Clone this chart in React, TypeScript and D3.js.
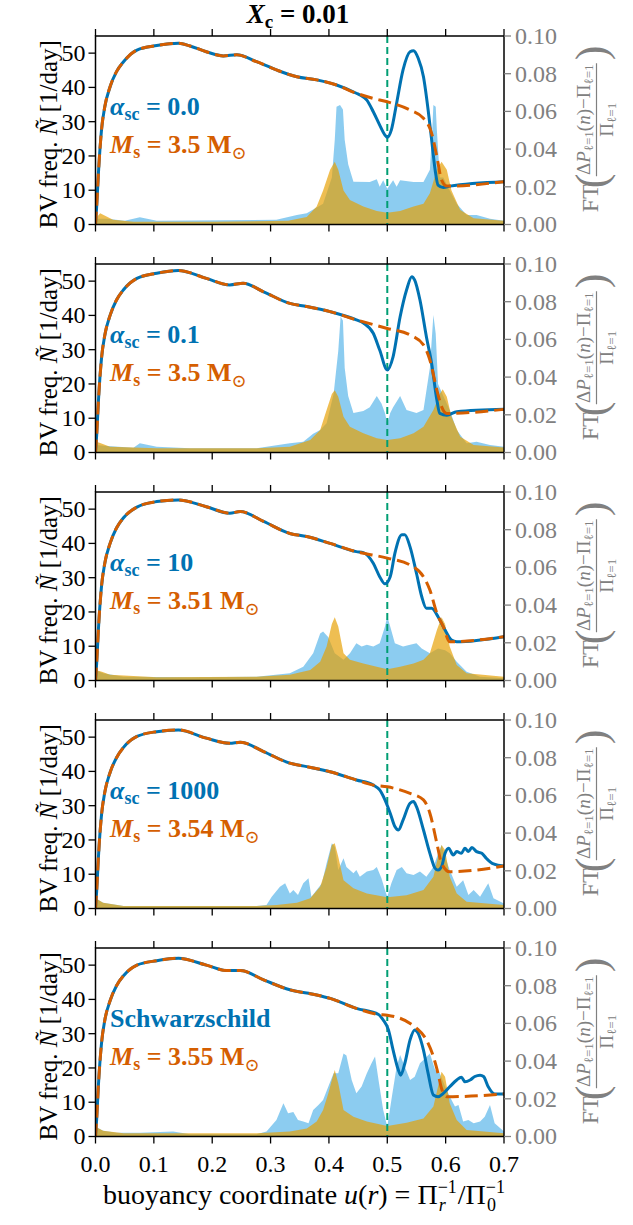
import React from 'react';
import * as d3 from 'd3';

type P = [number, number];

const xTicks = [0, 0.1, 0.2, 0.3, 0.4, 0.5, 0.6, 0.7];
const leftTicks = [0, 10, 20, 30, 40, 50];
const rightTicks = [0, 0.02, 0.04, 0.06, 0.08, 0.1];
const modelLabels = ['0.0', '0.1', '10', '1000', 'Schwarzschild'];
const massLabels = ['3.5', '3.5', '3.51', '3.54', '3.55'];

// ---- BV frequency profiles (u, N) ----
const nHead1: P[] = [[0,0],[0.002,5.2],[0.005,14.9],[0.0103,27.6],[0.016,34.4],[0.025,40.2],[0.036,44.6],[0.048,47.5],[0.071,50.9],[0.105,52.2],[0.142,52.9],[0.162,52.1],[0.19,50.4],[0.219,49.2],[0.242,49.5],[0.276,47.5],[0.31,45.1],[0.345,43.1],[0.379,42.2],[0.413,40.7],[0.447,38.3]];
const nSmoothTail1: P[] = [[0.476,36.8],[0.5,35.8],[0.539,33.4],[0.562,31],[0.576,26.6],[0.585,19.8],[0.593,13],[0.602,11.2],[0.7,12.5]];
const nModelTail1: P[] = [[0.453,37.8],[0.465,36.3],[0.476,32.9],[0.487,29],[0.496,26.1],[0.5,25.4],[0.507,27.6],[0.516,35.4],[0.527,45.1],[0.539,50.4],[0.545,50.7],[0.553,48.5],[0.562,43.1],[0.57,33.4],[0.576,24.7],[0.582,15.9],[0.587,11.5],[0.596,10.8],[0.607,11.2],[0.7,12.5]];

const nHead2: P[] = [[0,0],[0.002,5],[0.005,15],[0.0103,27.5],[0.016,34.3],[0.025,40],[0.036,44.5],[0.048,47.5],[0.071,50.8],[0.105,52.3],[0.142,53.1],[0.19,50.8],[0.23,48.9],[0.253,49.4],[0.288,46.9],[0.333,43.5],[0.362,42.6],[0.402,41.1],[0.447,38.7]];
const nSmoothTail2: P[] = [[0.5,36.2],[0.539,34.3],[0.562,31.4],[0.573,27],[0.585,18.2],[0.593,13.4],[0.602,11.4],[0.7,12.6]];
const nModelTail2: P[] = [[0.459,37.8],[0.476,34.8],[0.487,29.9],[0.5,24.1],[0.51,28],[0.522,39.6],[0.533,47.4],[0.542,51.3],[0.547,50.3],[0.556,44.5],[0.567,33.8],[0.576,26],[0.585,15.3],[0.59,11.4],[0.602,10.9],[0.619,11.9],[0.7,12.6]];

const nHead3: P[] = [[0,0],[0.002,5],[0.005,15],[0.0103,27.5],[0.016,34.3],[0.025,40],[0.036,44.5],[0.048,47.5],[0.071,50.6],[0.105,52.2],[0.142,52.7],[0.19,50.7],[0.23,48.8],[0.248,49.3],[0.288,46.4],[0.333,42.9],[0.362,42],[0.402,40],[0.447,37.6]];
const nSmoothTail3: P[] = [[0.5,35.7],[0.539,33.7],[0.562,30.3],[0.573,26.4],[0.585,19.6],[0.596,15.7],[0.607,11.3],[0.7,12.8]];
const nModelTail3: P[] = [[0.459,37.3],[0.476,34.2],[0.487,30.3],[0.496,28.2],[0.505,30.3],[0.513,37.1],[0.525,42.5],[0.53,42.5],[0.539,39],[0.55,31.3],[0.559,24.5],[0.567,21.1],[0.576,21.1],[0.587,18.6],[0.599,14.7],[0.61,11.8],[0.619,11.3],[0.7,12.8]];

const nHead4: P[] = [[0,0],[0.002,5],[0.005,15],[0.0103,27.3],[0.016,34],[0.025,39.7],[0.036,44],[0.048,47],[0.071,50.2],[0.105,51.6],[0.142,52.1],[0.19,49.7],[0.23,48.2],[0.248,48.5],[0.288,45.8],[0.333,42.4],[0.362,41.4],[0.402,39.9],[0.447,37.5],[0.476,36]];
const nSmoothTail4: P[] = [[0.5,35.5],[0.539,33.6],[0.562,31.7],[0.573,27.8],[0.585,19],[0.593,13.2],[0.607,10.7],[0.7,12.4]];
const nModelTail4: P[] = [[0.487,34.6],[0.496,31.7],[0.505,27.8],[0.513,23.9],[0.519,22.9],[0.527,25.8],[0.539,30.7],[0.545,31.2],[0.55,29.7],[0.562,22.9],[0.573,16.1],[0.582,11.7],[0.587,11.2],[0.593,12.2],[0.599,16.1],[0.605,17.6],[0.613,15.6],[0.619,16.6],[0.627,16.1],[0.633,17.6],[0.639,16.6],[0.645,17.8],[0.653,16.6],[0.662,16.1],[0.67,14.6],[0.682,13],[0.7,12.4]];

const nHead5: P[] = [[0,0],[0.002,5],[0.005,15],[0.0103,27.2],[0.016,34],[0.025,39.6],[0.036,44],[0.048,46.9],[0.071,50],[0.105,51.3],[0.142,52],[0.19,50],[0.225,48.4],[0.248,48.4],[0.288,45.7],[0.333,42.8],[0.379,41.3],[0.402,40.3],[0.447,37.4],[0.485,35.6]];
const nSmoothTail5: P[] = [[0.5,35.4],[0.55,31.6],[0.567,28.2],[0.579,23.3],[0.587,18.4],[0.593,14],[0.602,11.6],[0.7,12.4]];
const nModelTail5: P[] = [[0.493,34],[0.502,31.1],[0.51,25.2],[0.519,19.4],[0.523,17.9],[0.53,21.3],[0.539,28.2],[0.547,31.1],[0.553,30.1],[0.562,25.2],[0.57,18.4],[0.579,12.1],[0.587,11.6],[0.596,12.6],[0.607,14.5],[0.619,16.5],[0.627,17.3],[0.633,16],[0.642,16.5],[0.65,17.5],[0.659,17.9],[0.665,17.5],[0.673,14.5],[0.684,12.4],[0.7,12.4]];

// ---- Fourier transforms of period spacing (u, FT) ----
const ftModel1: P[] = [[0,0.003],[0.02,0.003],[0.05,0.002],[0.076,0.0038],[0.105,0.002],[0.31,0.0025],[0.345,0.005],[0.362,0.006],[0.39,0.011],[0.405,0.025],[0.41,0.045],[0.413,0.0625],[0.419,0.0634],[0.424,0.061],[0.427,0.045],[0.433,0.032],[0.442,0.0227],[0.47,0.0225],[0.482,0.024],[0.487,0.02],[0.493,0.0235],[0.5,0.019],[0.51,0.0235],[0.516,0.02],[0.522,0.0235],[0.545,0.0225],[0.562,0.0225],[0.573,0.029],[0.577,0.05],[0.579,0.0634],[0.583,0.0625],[0.585,0.05],[0.59,0.025],[0.596,0.025],[0.607,0.018],[0.619,0.011],[0.636,0.005],[0.653,0.005],[0.676,0.003],[0.7,0.002]];
const ftSmooth1: P[] = [[0,0.003],[0.008,0.006],[0.03,0.0025],[0.065,0.0015],[0.2,0.0015],[0.33,0.002],[0.362,0.004],[0.379,0.0095],[0.39,0.018],[0.402,0.029],[0.41,0.0333],[0.416,0.029],[0.425,0.018],[0.436,0.013],[0.459,0.0095],[0.482,0.0072],[0.5,0.0063],[0.522,0.0072],[0.545,0.0095],[0.562,0.011],[0.573,0.0166],[0.585,0.029],[0.593,0.0333],[0.602,0.029],[0.61,0.018],[0.625,0.0077],[0.648,0.0033],[0.7,0.002]];

const ftModel2: P[] = [[0,0.004],[0.02,0.0035],[0.065,0.0025],[0.076,0.0049],[0.105,0.003],[0.162,0.0022],[0.276,0.0023],[0.333,0.0049],[0.356,0.0057],[0.373,0.01],[0.385,0.012],[0.396,0.0155],[0.408,0.031],[0.416,0.054],[0.42,0.072],[0.424,0.07],[0.427,0.045],[0.433,0.03],[0.442,0.021],[0.459,0.022],[0.47,0.024],[0.482,0.03],[0.49,0.026],[0.496,0.021],[0.5,0.0155],[0.505,0.021],[0.51,0.024],[0.522,0.03],[0.533,0.0225],[0.55,0.021],[0.562,0.0225],[0.573,0.045],[0.579,0.073],[0.583,0.063],[0.587,0.0363],[0.596,0.03],[0.607,0.0225],[0.619,0.012],[0.636,0.0049],[0.653,0.0057],[0.676,0.004],[0.7,0.003]];
const ftSmooth2: P[] = [[0,0.0058],[0.008,0.005],[0.025,0.003],[0.105,0.0022],[0.276,0.0022],[0.333,0.003],[0.368,0.0066],[0.385,0.012],[0.396,0.0226],[0.405,0.031],[0.41,0.033],[0.416,0.0296],[0.425,0.019],[0.436,0.0137],[0.459,0.0102],[0.482,0.0075],[0.5,0.0066],[0.522,0.0075],[0.545,0.0102],[0.562,0.0137],[0.579,0.0226],[0.59,0.031],[0.595,0.0335],[0.602,0.0296],[0.61,0.019],[0.625,0.0084],[0.648,0.004],[0.7,0.0027]];

const ftModel3: P[] = [[0,0.0056],[0.013,0.0038],[0.048,0.002],[0.162,0.0017],[0.276,0.002],[0.333,0.0038],[0.356,0.0073],[0.373,0.0144],[0.385,0.025],[0.39,0.026],[0.399,0.023],[0.41,0.0144],[0.425,0.011],[0.436,0.0144],[0.447,0.0197],[0.456,0.018],[0.465,0.019],[0.476,0.018],[0.487,0.0197],[0.496,0.0286],[0.5,0.034],[0.505,0.0286],[0.513,0.0197],[0.527,0.018],[0.539,0.019],[0.55,0.0197],[0.559,0.017],[0.573,0.0144],[0.587,0.017],[0.599,0.016],[0.607,0.0144],[0.619,0.01],[0.636,0.0047],[0.659,0.002],[0.7,0.0012]];
const ftSmooth3: P[] = [[0,0.0056],[0.011,0.0047],[0.025,0.003],[0.105,0.0017],[0.276,0.002],[0.333,0.003],[0.368,0.0056],[0.385,0.01],[0.396,0.018],[0.405,0.03],[0.41,0.0335],[0.416,0.0286],[0.425,0.0144],[0.436,0.011],[0.459,0.009],[0.482,0.0073],[0.5,0.006],[0.522,0.0073],[0.545,0.009],[0.562,0.011],[0.573,0.0144],[0.585,0.0268],[0.593,0.0335],[0.599,0.03],[0.607,0.018],[0.619,0.0082],[0.636,0.0038],[0.7,0.002]];

const ftModel4: P[] = [[0,0.0054],[0.013,0.003],[0.048,0.0013],[0.276,0.0013],[0.293,0.0019],[0.302,0.0063],[0.316,0.0116],[0.325,0.0134],[0.333,0.008],[0.339,0.0098],[0.347,0.0072],[0.356,0.0134],[0.365,0.016],[0.37,0.0063],[0.379,0.0098],[0.388,0.0134],[0.396,0.024],[0.405,0.0346],[0.41,0.0328],[0.416,0.0204],[0.425,0.0266],[0.43,0.022],[0.442,0.0187],[0.447,0.0204],[0.453,0.0169],[0.465,0.0196],[0.476,0.0204],[0.482,0.022],[0.49,0.016],[0.496,0.0098],[0.5,0.0063],[0.507,0.0134],[0.516,0.0204],[0.525,0.022],[0.533,0.0187],[0.545,0.0178],[0.556,0.0196],[0.567,0.0169],[0.579,0.022],[0.587,0.029],[0.593,0.0337],[0.599,0.0275],[0.607,0.0204],[0.619,0.0116],[0.63,0.015],[0.639,0.0072],[0.648,0.0098],[0.659,0.0063],[0.673,0.0134],[0.682,0.0054],[0.7,0.0027]];
const ftSmooth4: P[] = [[0,0.0054],[0.013,0.003],[0.048,0.0013],[0.276,0.0013],[0.31,0.0019],[0.345,0.003],[0.368,0.0054],[0.385,0.0116],[0.396,0.022],[0.405,0.0337],[0.41,0.0346],[0.416,0.0275],[0.425,0.015],[0.442,0.0107],[0.465,0.008],[0.5,0.006],[0.533,0.007],[0.562,0.0098],[0.579,0.0169],[0.587,0.0275],[0.593,0.0337],[0.599,0.031],[0.607,0.0169],[0.619,0.008],[0.636,0.0036],[0.7,0.0019]];

const ftModel5: P[] = [[0,0.0052],[0.013,0.003],[0.036,0.002],[0.076,0.002],[0.133,0.0026],[0.162,0.0012],[0.276,0.0012],[0.293,0.0026],[0.31,0.0088],[0.322,0.0176],[0.33,0.0123],[0.339,0.013],[0.347,0.0088],[0.356,0.0079],[0.365,0.007],[0.373,0.014],[0.382,0.0167],[0.39,0.0194],[0.399,0.0265],[0.408,0.0335],[0.416,0.0335],[0.425,0.044],[0.43,0.043],[0.439,0.03],[0.447,0.0229],[0.456,0.0265],[0.465,0.0335],[0.473,0.0388],[0.479,0.0424],[0.485,0.03],[0.493,0.014],[0.5,0.0052],[0.507,0.0194],[0.516,0.037],[0.522,0.0432],[0.53,0.037],[0.539,0.03],[0.547,0.0317],[0.556,0.0388],[0.565,0.0415],[0.573,0.044],[0.582,0.0353],[0.59,0.0335],[0.599,0.0265],[0.607,0.0212],[0.616,0.0159],[0.622,0.0167],[0.63,0.0079],[0.639,0.0088],[0.648,0.007],[0.659,0.0079],[0.667,0.0105],[0.676,0.0167],[0.684,0.007],[0.7,0.0026]];
const ftSmooth5: P[] = [[0,0.0052],[0.013,0.003],[0.048,0.0017],[0.276,0.0017],[0.333,0.0026],[0.362,0.0043],[0.379,0.0079],[0.39,0.014],[0.399,0.0229],[0.405,0.03],[0.41,0.0353],[0.416,0.0282],[0.425,0.014],[0.442,0.0105],[0.465,0.0079],[0.5,0.0056],[0.533,0.0073],[0.562,0.0096],[0.579,0.0159],[0.587,0.0265],[0.593,0.0344],[0.599,0.0317],[0.607,0.0176],[0.619,0.0088],[0.636,0.0034],[0.7,0.0017]];

const nSmooth = [
  [...nHead1, ...nSmoothTail1], [...nHead2, ...nSmoothTail2], [...nHead3, ...nSmoothTail3],
  [...nHead4, ...nSmoothTail4], [...nHead5, ...nSmoothTail5],
];
const nModel = [
  [...nHead1, ...nModelTail1], [...nHead2, ...nModelTail2], [...nHead3, ...nModelTail3],
  [...nHead4, ...nModelTail4], [...nHead5, ...nModelTail5],
];
const ftModel = [ftModel1, ftModel2, ftModel3, ftModel4, ftModel5];
const ftSmooth = [ftSmooth1, ftSmooth2, ftSmooth3, ftSmooth4, ftSmooth5];

const BLUE = '#0072B2';
const ORANGE = '#D55E00';
const GREEN = '#009E73';
const FILL_BLUE = '#56B4E9';
const FILL_YEL = '#E69F00';
const GRAY = '#808080';
const FONT = '"Liberation Serif", "Times New Roman", "DejaVu Serif", serif';

const LEFT = 95.5, RIGHT = 504, TOP0 = 36, PH = 188.5, STEP = 228, TL = 7;

const x = d3.scaleLinear().domain([0, 0.7]).range([LEFT, RIGHT]);

function Panel({ i }: { i: number }) {
  const top = TOP0 + STEP * i;
  const bottom = top + PH;
  const yL = d3.scaleLinear().domain([0, 55]).range([bottom, top]);
  const yR = d3.scaleLinear().domain([0, 0.1]).range([bottom, top]);
  const area = d3.area<P>().x(d => x(d[0])).y0(bottom).y1(d => yR(d[1]));
  const line = d3.line<P>().x(d => x(d[0])).y(d => yL(d[1])).curve(d3.curveMonotoneX);
  const cy = (top + bottom) / 2;
  const isLast = i === 4;
  const label = modelLabels[i];
  return (
    <g>
      <defs>
        <clipPath id={`clip${i}`}>
          <rect x={LEFT} y={top} width={RIGHT - LEFT} height={PH} />
        </clipPath>
      </defs>
      <g clipPath={`url(#clip${i})`}>
        <path d={area(ftModel[i]) || ''} fill={FILL_BLUE} fillOpacity={0.68} />
        <path d={area(ftSmooth[i]) || ''} fill={FILL_YEL} fillOpacity={0.68} />
        <line x1={x(0.5)} x2={x(0.5)} y1={top} y2={bottom} stroke={GREEN} strokeWidth={2} strokeDasharray="7,4" />
        <path d={line(nModel[i]) || ''} fill="none" stroke={BLUE} strokeWidth={3} strokeLinejoin="round" />
        <path d={line(nSmooth[i]) || ''} fill="none" stroke={ORANGE} strokeWidth={3} strokeDasharray="13,6" />
      </g>
      <rect x={LEFT} y={top} width={RIGHT - LEFT} height={PH} fill="none" stroke="#000" strokeWidth={1.5} />
      {xTicks.map(t => (
        <g key={`xt${t}`}>
          <line x1={x(t)} x2={x(t)} y1={top} y2={top - TL} stroke="#000" strokeWidth={1.3} />
          <line x1={x(t)} x2={x(t)} y1={bottom} y2={bottom + TL} stroke="#000" strokeWidth={1.3} />
          {isLast && (
            <text x={x(t)} y={bottom + 35} textAnchor="middle" fontSize={24} fontFamily={FONT}>{t.toFixed(1)}</text>
          )}
        </g>
      ))}
      {leftTicks.map(t => (
        <g key={`lt${t}`}>
          <line x1={LEFT} x2={LEFT - TL} y1={yL(t)} y2={yL(t)} stroke="#000" strokeWidth={1.3} />
          <text x={LEFT - TL - 3} y={yL(t)} dy="0.33em" textAnchor="end" fontSize={24} fontFamily={FONT}>{t}</text>
        </g>
      ))}
      {rightTicks.map(t => (
        <g key={`rt${t}`}>
          <line x1={RIGHT} x2={RIGHT + TL} y1={yR(t)} y2={yR(t)} stroke={GRAY} strokeWidth={1.3} />
          <text x={RIGHT + TL + 4} y={yR(t)} dy="0.33em" textAnchor="start" fontSize={24} fontFamily={FONT} fill={GRAY}>{t.toFixed(2)}</text>
        </g>
      ))}
      <text transform={`translate(57,${cy + 4}) rotate(-90)`} textAnchor="middle" fontSize={25} fontFamily={FONT}>
        BV freq. <tspan fontStyle="italic">Ñ</tspan> [1/day]
      </text>
      <g transform={`translate(598,${cy}) rotate(-90)`} fill={GRAY} fontFamily={FONT}>
        <text x={-82} y={0} fontSize={24}>FT</text>
        <text x={-58} y={8} fontSize={44}>(</text>
        <text x={10.5} y={-8} fontSize={19} textAnchor="middle">
          Δ<tspan fontStyle="italic">P</tspan><tspan fontSize={13} dy={2.5}>ℓ=1</tspan><tspan dy={-2.5}>(<tspan fontStyle="italic">n</tspan>)−Π</tspan><tspan fontSize={13} dy={2.5}>ℓ=1</tspan>
        </text>
        <line x1={-46} x2={67} y1={-1.5} y2={-1.5} stroke={GRAY} strokeWidth={1.2} />
        <text x={10.5} y={15} fontSize={19} textAnchor="middle">
          Π<tspan fontSize={13} dy={2.5}>ℓ=1</tspan>
        </text>
        <text x={70} y={8} fontSize={44}>)</text>
      </g>
      <text x={110} y={top + 79} fill={BLUE} fontWeight="bold" fontSize={26} fontFamily={FONT}>
        {label === 'Schwarzschild' ? (
          label
        ) : (
          <>
            <tspan fontStyle="italic">α</tspan>
            <tspan fontSize={18} dy={5}>sc</tspan>
            <tspan dy={-5}> = {label}</tspan>
          </>
        )}
      </text>
      <text x={110} y={top + 117} fill={ORANGE} fontWeight="bold" fontSize={26} fontFamily={FONT}>
        <tspan fontStyle="italic">M</tspan>
        <tspan fontSize={18} dy={5}>s</tspan>
        <tspan dy={-5}> = {massLabels[i]} M</tspan>
        <tspan fontSize={18} dy={6} fontFamily={'"DejaVu Serif", serif'} fontWeight="normal">⊙</tspan>
      </text>
    </g>
  );
}

export default function App() {
  return (
    <svg width={633} height={1225} style={{ position: 'absolute', left: 0, top: 0, background: '#fff' }}>
      <rect width={633} height={1225} fill="#fff" />
      <text x={298} y={23} textAnchor="middle" fontWeight="bold" fontSize={27} fontFamily={FONT}>
        <tspan fontStyle="italic">X</tspan>
        <tspan fontSize={19} dy={5}>c</tspan>
        <tspan dy={-5}> = 0.01</tspan>
      </text>
      {[0, 1, 2, 3, 4].map(i => <Panel key={i} i={i} />)}
      <text x={304} y={1204} textAnchor="middle" fontSize={28} fontFamily={FONT}>
        buoyancy coordinate <tspan fontStyle="italic">u</tspan>(<tspan fontStyle="italic">r</tspan>) = Π<tspan fontSize={18} dy={-11}>−1</tspan><tspan fontSize={18} fontStyle="italic" dx={-18} dy={18}>r</tspan><tspan dx={12} dy={-7}>/Π</tspan><tspan fontSize={18} dy={-11}>−1</tspan><tspan fontSize={18} dx={-18} dy={18}>0</tspan><tspan dx={9} dy={-7}> </tspan>
      </text>
    </svg>
  );
}
